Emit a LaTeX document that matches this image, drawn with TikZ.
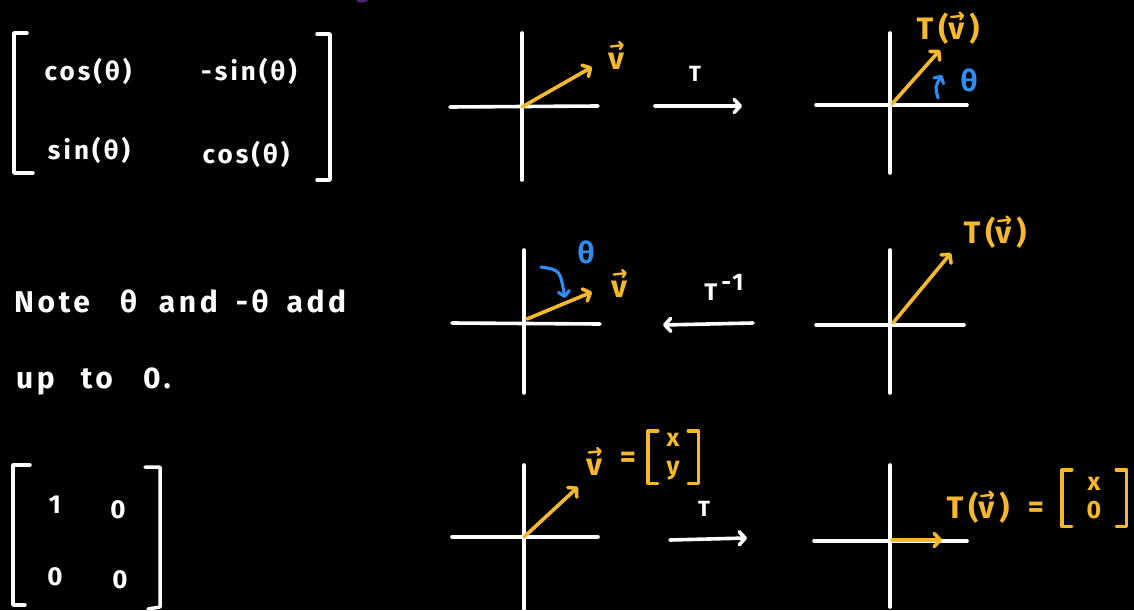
\documentclass[tikz,border=0pt]{standalone}
\usepackage{fontspec}
\setmainfont{Fira Sans}[LetterSpace=12]
\usetikzlibrary{arrows.meta}
\definecolor{vy}{HTML}{F7B92B}
\definecolor{vb}{HTML}{2F8CF2}
\definecolor{vp}{HTML}{4B2477}
% v with a small drawn arrow above it
\newcommand\vv{\makebox[0pt][l]{\hspace{1.5pt}\raisebox{19pt}{\tikz[x=1pt,y=1pt]\draw[vy, line width=2.4pt, line cap=round, -{Straight Barb[length=3pt,width=7pt,round]}] (0,0) -- (13,1.5);}}v}
\tikzset{
  ink/.style={white, line width=3.5pt, line cap=round, line join=round},
  axisline/.style={white, line width=3.6pt, line cap=round},
  barb/.style={-{Straight Barb[length=6pt,width=13pt,round]}},
  vecline/.style={vy, line width=3.6pt, line cap=round, barb},
  mapline/.style={white, line width=3.6pt, line cap=round, barb},
  turnline/.style={vb, line width=3.2pt, line cap=round, -{Straight Barb[length=5pt,width=11pt,round]}},
  ybrack/.style={vy, line width=3.4pt, line cap=round, line join=round},
  wtxt/.style={text=white, inner sep=0pt, font=\fontsize{26}{28}\selectfont\bfseries},
  ytxt/.style={text=vy, inner sep=0pt, font=\fontsize{31}{32}\selectfont\bfseries\addfontfeature{LetterSpace=16}},
  ycol/.style={text=vy, inner sep=0pt, align=center, font=\fontsize{25}{28}\selectfont\bfseries},
  btxt/.style={text=vb, inner sep=0pt, font=\fontsize{30}{30}\selectfont\bfseries},
}
\begin{document}
\begin{tikzpicture}[x=1pt,y=-1pt]
\fill[black] (0,0) rectangle (1134,610);
\useasboundingbox (0,0) rectangle (1134,610);
\fill[vp] (362,0) ellipse [x radius=6, y radius=2.5];

% ---- rotation matrix ----
\node[wtxt] (m11) at (88,71) {cos(θ)};
\node[wtxt] (m12) at (249,71) {-sin(θ)};
\node[wtxt] (m21) at (89,150) {sin(θ)};
\node[wtxt] (m22) at (246,154) {cos(θ)};
\draw[ink] (27,33) -- (14,33) -- (14,173) -- (33,173);
\draw[ink] (317,34) -- (330,34) -- (330,180) -- (317,180);

% ---- note ----
\node[wtxt, anchor=west, font=\fontsize{30}{32}\selectfont\bfseries] (note1) at (14,301)
  {Note\hspace{30pt}θ\hspace{22pt}and\hspace{18pt}-θ\hspace{18pt}add};
\node[wtxt, anchor=west, font=\fontsize{30}{32}\selectfont\bfseries] (note2) at (16,381)
  {up\hspace{26pt}to\hspace{30pt}0.};

% ---- projection matrix ----
\node[wtxt] (p11) at (55,505) {1};
\node[wtxt] (p12) at (118,510) {0};
\node[wtxt] (p21) at (55,577) {0};
\node[wtxt] (p22) at (120,580) {0};
\draw[ink] (30,465) -- (13,465) -- (13,605) -- (25,605);
\draw[ink] (145,467) -- (160,467) -- (160,607) -- (148,609);

% ---- row 1 ----
\coordinate (o1) at (522,107);
\draw[axisline] (522,33) -- (522,180);
\draw[axisline] (450,107) -- (598,106);
\coordinate (t1) at (592,67);
\draw[vecline] (o1) -- (t1);
\node[ytxt] (lv1) at (616,55) {\vv};
\coordinate (a1s) at (655,106);
\coordinate (a1e) at (742,106);
\draw[mapline] (a1s) -- (a1e);
\node[wtxt, font=\fontsize{22}{24}\selectfont\bfseries] (lT1) at (695,74) {T};

\coordinate (o2) at (892,104);
\draw[axisline] (890,33) -- (890,173);
\draw[axisline] (816,105) -- (967,105);
\coordinate (t2) at (940,50);
\draw[vecline] (o2) -- (t2);
\node[ytxt] (lTv2) at (948,28) {T(\vv)};
\coordinate (r2s) at (938,98);
\coordinate (r2e) at (942,75);
\draw[turnline] (r2s) .. controls (935,87) .. (r2e);
\node[btxt] (th2) at (969,80) {θ};

% ---- row 2 ----
\coordinate (o3) at (527,319);
\draw[axisline] (524,250) -- (524,393);
\draw[axisline] (452,323) -- (600,324);
\coordinate (t3) at (592,292);
\draw[vecline] (o3) -- (t3);
\node[ytxt] (lv3) at (619,283) {\vv};
\node[btxt] (th3) at (586,252) {θ};
\coordinate (r3s) at (541,267);
\coordinate (r3e) at (565,298);
\draw[turnline] (r3s) .. controls (560,270) .. (r3e);
\coordinate (a2s) at (753,323);
\coordinate (a2e) at (663,325);
\draw[mapline] (a2s) -- (a2e);
\node[wtxt, font=\fontsize{24}{26}\selectfont\bfseries] (lTi) at (724,287) {T\hspace{4pt}\raisebox{10pt}{-1}};

\coordinate (o4) at (893,323);
\draw[axisline] (890,250) -- (890,393);
\draw[axisline] (816,325) -- (964,325);
\coordinate (t4) at (951,253);
\draw[vecline] (o4) -- (t4);
\node[ytxt] (lTv4) at (995,232) {T(\vv)};

% ---- row 3 ----
\coordinate (o5) at (524,537);
\draw[axisline] (524,465) -- (524,610);
\draw[axisline] (452,537) -- (598,537);
\coordinate (t5) at (578,487);
\draw[vecline] (o5) -- (t5);
\node[ytxt] (lv5) at (594,461) {\vv};
\node[ytxt] (eq5) at (628,460) {=};
\node[ycol, minimum width=50pt, minimum height=52pt] (col5) at (673,457) {x\\y};
\draw[ybrack] ([xshift=10pt]col5.north west) -- (col5.north west) -- (col5.south west) -- ([xshift=10pt]col5.south west);
\draw[ybrack] ([xshift=-10pt]col5.north east) -- (col5.north east) -- (col5.south east) -- ([xshift=-10pt]col5.south east);
\coordinate (a3s) at (670,540);
\coordinate (a3e) at (747,538);
\draw[mapline] (a3s) -- (a3e);
\node[wtxt, font=\fontsize{22}{24}\selectfont\bfseries] (lT3) at (704,509) {T};

\coordinate (o6) at (892,540);
\draw[axisline] (890,465) -- (890,607);
\draw[axisline] (814,541) -- (967,541);
\coordinate (t6) at (942,540);
\draw[vecline] (o6) -- (t6);
\node[ytxt] (lTv6) at (978,507) {T(\vv)};
\node[ytxt] (eq6) at (1036,510) {=};
\node[ycol, minimum width=64pt, minimum height=56pt] (col6) at (1094,498) {x\\0};
\draw[ybrack] ([xshift=10pt]col6.north west) -- (col6.north west) -- (col6.south west) -- ([xshift=10pt]col6.south west);
\draw[ybrack] ([xshift=-10pt]col6.north east) -- (col6.north east) -- (col6.south east) -- ([xshift=-10pt]col6.south east);
\end{tikzpicture}
\end{document}
